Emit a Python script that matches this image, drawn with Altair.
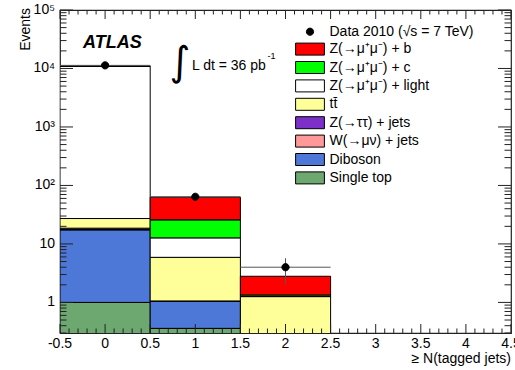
import altair as alt
import pandas as pd

# ---------------- data ----------------
bin_lo = [-0.5, 0.5, 1.5]
bin_hi = [0.5, 1.5, 2.5]
bin_center = [0.0, 1.0, 2.0]

single_top = [1.0, 0.36, 0.02]
diboson = [16.4, 0.70, 0.05]
w_jets = [0.2, 0.0, 0.0]
z_tautau = [1.0, 0.0, 0.0]
ttbar = [8.6, 4.84, 1.19]
z_light = [10870.0, 6.8, 0.0]
z_c = [0.0, 13.1, 0.08]
z_b = [0.0, 37.2, 1.46]

data_vals = [11300.0, 64.0, 4.0]
data_err_lo = [11194.0, 56.0, 2.0]
data_err_hi = [11406.0, 72.0, 5.7]

data_label = "Data 2010 (√s = 7 TeV)"
stack_labels = ["Single top", "Diboson", "W(→μν) + jets", "Z(→ττ) + jets", "tt̄",
                "Z(→μ⁺μ⁻) + light", "Z(→μ⁺μ⁻) + c", "Z(→μ⁺μ⁻) + b"]
stack_values = [single_top, diboson, w_jets, z_tautau, ttbar, z_light, z_c, z_b]
stack_colors = ["#6DA870", "#4E78D8", "#FF9999", "#7C30C8", "#FFFF99",
                "#FFFFFF", "#00FF00", "#FF0000"]

x_major = [-0.5, 0, 0.5, 1, 1.5, 2, 2.5, 3, 3.5, 4, 4.5]
x_major_labels = ["-0.5", "0", "0.5", "1", "1.5", "2", "2.5", "3", "3.5", "4", "4.5"]
x_minor = [round(-0.5 + 0.1 * i, 1) for i in range(51) if i % 5 != 0]
y_major = [1, 10, 100, 1000, 10000, 100000]
y_major_labels = ["1", "10", "10²", "10³", "10⁴", "10⁵"]
y_minor = [round(k * 10 ** e, 6) for e in range(-1, 5) for k in range(2, 10) if k * 10 ** e >= 0.3]
y_min, y_max = 0.3, 100000

W, H = 451, 323
FONT = "Liberation Sans"

# ---------------- tables ----------------
rows = []
for i in range(len(bin_lo)):
    cum = 0.0
    for lab, vals in zip(stack_labels, stack_values):
        bottom = cum
        cum += vals[i]
        rows.append(dict(x0=bin_lo[i], x1=bin_hi[i], process=lab,
                         bottom=bottom if bottom > 0 else y_min / 10,
                         top=cum if cum > 0 else y_min / 10))
stack_df = pd.DataFrame(rows)

data_df = pd.DataFrame(dict(x=bin_center, x0=bin_lo, x1=bin_hi, val=data_vals,
                            lo=data_err_lo, hi=data_err_hi, process=[data_label] * 3))

legend_labels = [data_label] + stack_labels[::-1]
legend_colors = ["black"] + stack_colors[::-1]
circle_path = "M-0.6,0A0.6,0.6 0 1,0 0.6,0A0.6,0.6 0 1,0 -0.6,0Z"
rect_path = "M-2.4,-1H2.4V1H-2.4Z"
legend_shapes = [circle_path] + [rect_path] * 8

xscale = alt.Scale(domain=[-0.5, 4.5], nice=False, zero=False)
yscale = alt.Scale(type="log", domain=[y_min, y_max], nice=False)

legend = alt.Legend(orient="none", legendX=243, legendY=14.7, title=None,
                    labelFontSize=14, labelFont=FONT, labelColor="black", labelLimit=400,
                    symbolSize=144, symbolStrokeColor="black", symbolStrokeWidth=1,
                    rowPadding=2.4, labelOffset=12.5, padding=0, symbolOpacity=1,
                    direction="vertical")

fill_enc = alt.Fill("process:N", scale=alt.Scale(domain=legend_labels, range=legend_colors),
                    legend=legend)
stroke_enc = alt.Stroke("process:N", scale=alt.Scale(domain=legend_labels, range=["black"] * 9),
                        legend=legend)


def X(field):
    return alt.X(field, scale=xscale, axis=None)


def Y(field):
    return alt.Y(field, scale=yscale, axis=None)


bars = alt.Chart(stack_df).mark_rect(strokeWidth=1, clip=True).encode(
    x=X("x0:Q"), x2="x1:Q", y=Y("top:Q"), y2="bottom:Q",
    fill=fill_enc, stroke=stroke_enc,
)

herr = alt.Chart(data_df).mark_rule(color="#555", strokeWidth=1, clip=True).encode(
    x=X("x0:Q"), x2="x1:Q", y=Y("val:Q"),
)

verr = alt.Chart(data_df).mark_rule(color="#555", strokeWidth=1, clip=True).encode(
    x=X("x:Q"), y=Y("lo:Q"), y2="hi:Q",
)

TICK = "#222"


def x_ticks(vals, y_edge, length):
    y_end = y_edge - length if y_edge > 0 else y_edge + length
    return alt.Chart(pd.DataFrame({"pos": vals})).mark_rule(color=TICK, strokeWidth=1).encode(
        x=X("pos:Q"), y=alt.value(y_edge), y2=alt.value(y_end),
    )


def y_ticks(vals, x_edge, length):
    x_end = x_edge - length if x_edge > 0 else x_edge + length
    return alt.Chart(pd.DataFrame({"pos": vals})).mark_rule(color=TICK, strokeWidth=1).encode(
        y=Y("pos:Q"), x=alt.value(x_edge), x2=alt.value(x_end),
    )


tick_layers = [
    x_ticks(x_major, H, 9), x_ticks(x_minor, H, 4.5),
    x_ticks(x_major, 0, 9), x_ticks(x_minor, 0, 4.5),
    y_ticks(y_major, 0, 13), y_ticks(y_minor, 0, 6.5),
    y_ticks(y_major, W, 13), y_ticks(y_minor, W, 6.5),
]

x_labels = alt.Chart(pd.DataFrame({"pos": x_major, "label": x_major_labels})).mark_text(
    font=FONT, fontSize=14, align="center", baseline="top", color="black").encode(
    x=X("pos:Q"), y=alt.value(H + 4), text="label:N")

y_labels = alt.Chart(pd.DataFrame({"pos": y_major, "label": y_major_labels})).mark_text(
    font=FONT, fontSize=14, align="right", baseline="middle", color="black").encode(
    y=Y("pos:Q"), x=alt.value(-5), text="label:N")

x_title = alt.Chart(pd.DataFrame({"t": ["≥ N(tagged jets)"]})).mark_text(
    font=FONT, fontSize=14, align="right", baseline="alphabetic", color="black").encode(
    x=alt.value(W), y=alt.value(H + 30), text="t:N")

y_title = alt.Chart(pd.DataFrame({"t": ["Events"]})).mark_text(
    font=FONT, fontSize=14, align="right", baseline="middle", angle=270, color="black").encode(
    x=alt.value(-34), y=alt.value(-2), text="t:N")

points = alt.Chart(data_df).mark_point(filled=True, size=144, opacity=1, clip=True,
                                       strokeWidth=1).encode(
    x=X("x:Q"), y=Y("val:Q"),
    fill=fill_enc,
    stroke=stroke_enc,
    shape=alt.Shape("process:N", scale=alt.Scale(domain=legend_labels, range=legend_shapes),
                    legend=legend),
)

atlas = alt.Chart(pd.DataFrame({"t": ["ATLAS"]})).mark_text(
    font=FONT, fontSize=18, fontWeight="bold", fontStyle="italic", align="left",
    baseline="alphabetic", color="black").encode(
    x=alt.value(23), y=alt.value(38), text="t:N")

integral = alt.Chart(pd.DataFrame({"t": ["∫"]})).mark_text(
    font="DejaVu Sans", fontSize=40, align="center", baseline="middle", color="black").encode(
    x=alt.value(120), y=alt.value(53), text="t:N")

lumi = alt.Chart(pd.DataFrame({"t": ["L dt = 36 pb"]})).mark_text(
    font=FONT, fontSize=14, align="left", baseline="alphabetic", color="black").encode(
    x=alt.value(132), y=alt.value(60), text="t:N")

lumi_sup = alt.Chart(pd.DataFrame({"t": ["-1"]})).mark_text(
    font=FONT, fontSize=9, align="left", baseline="alphabetic", color="black").encode(
    x=alt.value(207.5), y=alt.value(48.5), text="t:N")

chart = alt.layer(bars, herr, verr, *tick_layers, points, x_labels, y_labels, x_title, y_title,
                  atlas, integral, lumi, lumi_sup).properties(
    width=W, height=H,
    autosize=alt.AutoSizeParams(type="none"),
    padding={"left": 60, "top": 10, "right": 4, "bottom": 37},
).configure_view(stroke="#222", strokeWidth=1.2)

chart.save("out.html", embed_options={"renderer": "svg", "actions": False})
